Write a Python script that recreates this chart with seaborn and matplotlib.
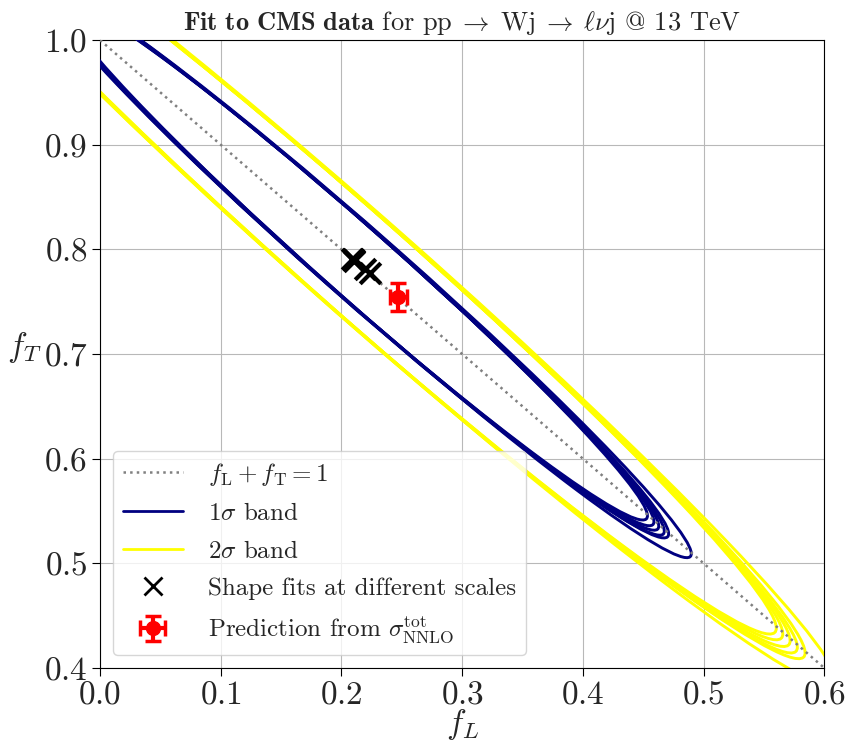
import matplotlib
matplotlib.use("Agg")
import matplotlib.pyplot as plt
from matplotlib.patches import Ellipse
from matplotlib.lines import Line2D
import seaborn as sns

# line fL + fT = 1
diag_fL = [0.0, 0.6]
diag_fT = [1.0, 0.4]

# best-fit points of the shape fits (one per scale choice)
fit_fL = [0.2237, 0.2196, 0.2104, 0.2100, 0.2095, 0.2090]
fit_fT = [0.7771, 0.7810, 0.7893, 0.7898, 0.7905, 0.7910]

# contour semi-axes (data units) around each best-fit point
sig1_major = [0.379, 0.358, 0.366, 0.360, 0.355, 0.348]
sig1_minor = [0.0318, 0.0316, 0.0316, 0.0315, 0.0315, 0.0314]
sig2_major = [0.550, 0.519, 0.523, 0.515, 0.507, 0.500]
sig2_minor = [0.0453, 0.0450, 0.0450, 0.0449, 0.0448, 0.0447]
contour_angle = -45.6

# prediction from total NNLO cross section
pred_fL = 0.247
pred_fT = 0.7545
pred_fL_err = 0.007
pred_fT_err = 0.0135

xticks = [0.0, 0.1, 0.2, 0.3, 0.4, 0.5, 0.6]
yticks = [0.4, 0.5, 0.6, 0.7, 0.8, 0.9, 1.0]

sns.set_style("ticks", {"axes.grid": True, "grid.color": "#b8b8b8", "axes.edgecolor": "black"})
plt.rcParams["font.family"] = ["cmr10", "DejaVu Serif"]
plt.rcParams["mathtext.fontset"] = "cm"
plt.rcParams["axes.formatter.use_mathtext"] = True
plt.rcParams["axes.unicode_minus"] = False

fig, ax = plt.subplots(figsize=(8.48, 7.43), dpi=100)
fig.subplots_adjust(left=0.118, right=0.972, bottom=0.101, top=0.946)

for i in range(len(fit_fL)):
    ax.add_patch(Ellipse((fit_fL[i], fit_fT[i]), 2 * sig2_major[i], 2 * sig2_minor[i],
                         angle=contour_angle, fill=False, ec="yellow", lw=2.1, zorder=2))
    ax.add_patch(Ellipse((fit_fL[i], fit_fT[i]), 2 * sig1_major[i], 2 * sig1_minor[i],
                         angle=contour_angle, fill=False, ec="navy", lw=2.1, zorder=3))

sns.lineplot(x=diag_fL, y=diag_fT, ax=ax, color="grey", linestyle=":", lw=1.8, zorder=4)
sns.scatterplot(x=fit_fL, y=fit_fT, ax=ax, marker="x", s=220, color="black", linewidth=3, zorder=5)
ax.errorbar(pred_fL, pred_fT, xerr=pred_fL_err, yerr=pred_fT_err, fmt="o", color="red",
            ms=10, lw=3, capsize=6, capthick=2.5, zorder=6)

handles = [
    Line2D([], [], color="grey", linestyle=":", lw=1.8),
    Line2D([], [], color="navy", lw=2),
    Line2D([], [], color="yellow", lw=2),
    Line2D([], [], color="black", marker="x", ls="none", ms=13, mew=2),
    ax.containers[-1],
]
labels = [r"$f_\mathrm{L} + f_\mathrm{T} = 1$", r"$1\sigma$ band", r"$2\sigma$ band",
          "Shape fits at different scales", r"Prediction from $\sigma_\mathrm{NNLO}^\mathrm{tot}$"]
ax.legend(handles, labels, loc="lower left", fontsize=18, framealpha=0.8,
          handlelength=2.4, handletextpad=1.0, labelspacing=0.6)

ax.set_xlim(0.0, 0.6)
ax.set_ylim(0.4, 1.0)
ax.set_xticks(xticks)
ax.set_yticks(yticks)
ax.tick_params(labelsize=24, direction="out", length=6, color="black", pad=3)
ax.set_xlabel(r"$f_L$", fontsize=24, labelpad=-2)
ax.set_ylabel(r"$f_T$", fontsize=24, rotation=0, va="center", ha="center")
ax.yaxis.set_label_coords(-0.105, 0.51)
ax.set_title(r"$\mathbf{Fit\ to\ CMS\ data}$ for pp$\;\rightarrow\;$Wj$\;\rightarrow\;\ell\nu$j @ 13 TeV",
             fontsize=19, pad=7)

fig.savefig("out.png", dpi=100)
